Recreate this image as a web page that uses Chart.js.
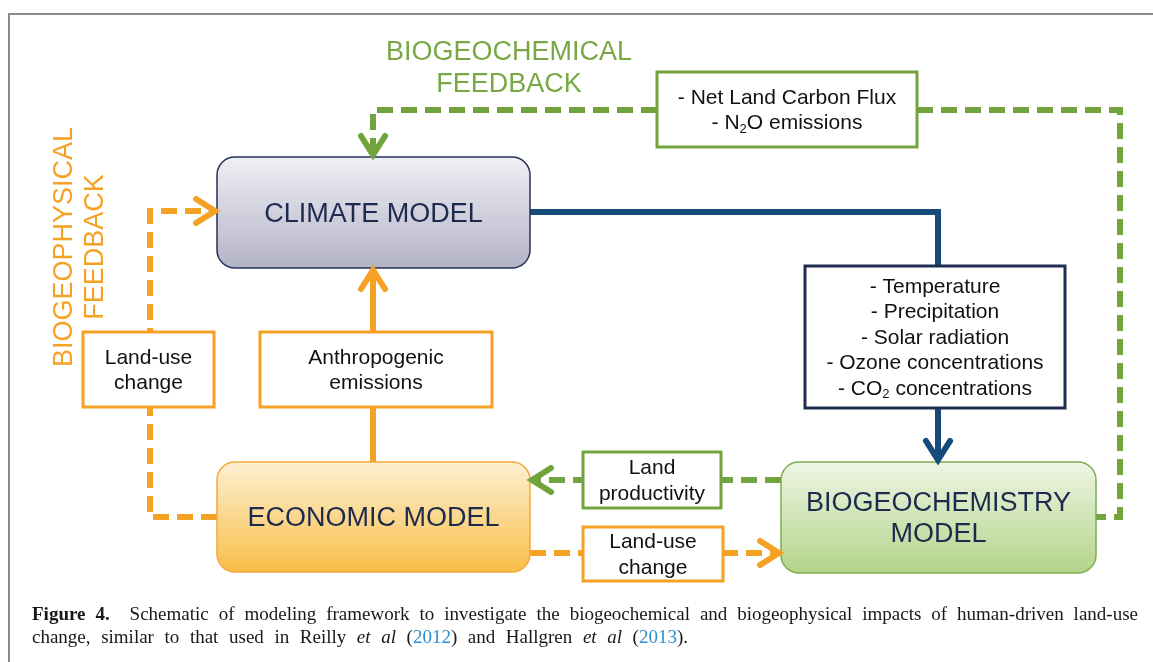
<!DOCTYPE html>
<html>
<head>
<meta charset="utf-8">
<script src="https://cdn.jsdelivr.net/npm/chart.js@4.4.0/dist/chart.umd.min.js"></script>
<style>
html, body { margin: 0; padding: 0; background: #fff; }
#wrap { position: relative; width: 1153px; height: 662px; overflow: hidden; }
#frame { position: absolute; left: 8px; top: 13px; width: 1300px; height: 800px;
         border-left: 2px solid #8a8a8a; border-top: 2px solid #8a8a8a; }
#chart { position: absolute; left: 0; top: 0; }
#caption { position: absolute; left: 32px; top: 602px; width: 1106px;
           font-family: "Liberation Serif", "DejaVu Serif", serif; font-size: 19px;
           line-height: 23px; color: #1a1718; white-space: nowrap; }
#caption div { text-align: justify; text-align-last: justify; white-space: normal; }
#caption .l2 { width: 656px; }
#caption a { color: #2a8fd0; text-decoration: none; }
</style>
</head>
<body>
<div id="wrap">
  <div id="frame"></div>
  <canvas id="chart" width="1153" height="662"></canvas>
  <div id="caption">
    <div class="l1"><b>Figure 4.</b>&nbsp; Schematic of modeling framework to investigate the biogeochemical and biogeophysical impacts of human-driven land-use</div>
    <div class="l2">change, similar to that used in Reilly <i>et al</i> (<a>2012</a>) and Hallgren <i>et al</i> (<a>2013</a>).</div>
  </div>
</div>
<script>
// Textos del esquema
const modelNames = [['CLIMATE MODEL'], ['ECONOMIC MODEL'], ['BIOGEOCHEMISTRY', 'MODEL']];
const climateVars = ['- Temperature', '- Precipitation', '- Solar radiation', '- Ozone concentrations', '- CO{2} concentrations'];
const carbonVars = ['- Net Land Carbon Flux', '- N{2}O emissions'];
const emissionVars = ['Anthropogenic', 'emissions'];
const landUseVars = ['Land-use', 'change'];
const productivityVars = ['Land', 'productivity'];
const chemFeedback = ['BIOGEOCHEMICAL', 'FEEDBACK'];
const physFeedback = ['BIOGEOPHYSICAL', 'FEEDBACK'];

const GREEN = '#72a33c';
const ORANGE = '#f5a224';
const NAVY = '#154a7a';
const INK = '#1c2a4e';

// Layout (en unidades de la escala)
const boxes = [
    { lines: modelNames[0], x0: 217, y0: 157, x1: 530, y1: 268, model: true, fill: ['#efeff4', '#b3b3c7'], stroke: '#25325a' },
    { lines: modelNames[1], x0: 217, y0: 462, x1: 530, y1: 572, model: true, fill: ['#fdf0d2', '#f8bf48'], stroke: '#f4a93a' },
    { lines: modelNames[2], x0: 781, y0: 462, x1: 1096, y1: 573, model: true, fill: ['#eef5e4', '#b3d489'], stroke: '#7fae4e' },
    { lines: carbonVars, x0: 657, y0: 72, x1: 917, y1: 147, stroke: GREEN },
    { lines: climateVars, x0: 805, y0: 266, x1: 1065, y1: 408, stroke: '#1f2d50' },
    { lines: emissionVars, x0: 260, y0: 332, x1: 492, y1: 407, stroke: ORANGE },
    { lines: landUseVars, x0: 83, y0: 332, x1: 214, y1: 407, stroke: ORANGE },
    { lines: productivityVars, x0: 583, y0: 452, x1: 721, y1: 508, stroke: GREEN },
    { lines: landUseVars, x0: 583, y0: 527, x1: 723, y1: 581, stroke: ORANGE }
];

const paths = [
    { pts: [[657, 110], [373, 110], [373, 155]], color: GREEN, dash: true, head: 'down' },
    { pts: [[917, 110], [1120, 110], [1120, 517], [1096, 517]], color: GREEN, dash: true },
    { pts: [[530, 212], [938, 212], [938, 266]], color: NAVY },
    { pts: [[938, 408], [938, 460]], color: NAVY, head: 'down' },
    { pts: [[373, 462], [373, 270]], color: ORANGE, head: 'up' },
    { pts: [[217, 517], [150, 517], [150, 211], [215, 211]], color: ORANGE, dash: true, head: 'right' },
    { pts: [[781, 480], [532, 480]], color: GREEN, dash: true, head: 'left' },
    { pts: [[530, 553], [779, 553]], color: ORANGE, dash: true, head: 'right' }
];

function richText(ctx, str, cx, cy, size) {
    const parts = str.split(/\{(\w+)\}/);
    const subSize = Math.round(size * 0.62);
    let w = 0;
    parts.forEach((p, i) => {
        ctx.font = (i % 2 ? subSize : size) + 'px "Liberation Sans", Arial, sans-serif';
        w += ctx.measureText(p).width;
    });
    let x = cx - w / 2;
    ctx.textAlign = 'left';
    parts.forEach((p, i) => {
        const sub = i % 2 === 1;
        ctx.font = (sub ? subSize : size) + 'px "Liberation Sans", Arial, sans-serif';
        ctx.fillText(p, x, cy + (sub ? size * 0.28 : 0));
        x += ctx.measureText(p).width;
    });
}

function roundRect(ctx, x, y, w, h, r) {
    ctx.beginPath();
    ctx.moveTo(x + r, y);
    ctx.arcTo(x + w, y, x + w, y + h, r);
    ctx.arcTo(x + w, y + h, x, y + h, r);
    ctx.arcTo(x, y + h, x, y, r);
    ctx.arcTo(x, y, x + w, y, r);
    ctx.closePath();
}

const diagram = {
    id: 'diagram',
    afterDatasetsDraw(chart) {
        const ctx = chart.ctx;
        const sx = chart.scales.x, sy = chart.scales.y;
        const px = v => sx.getPixelForValue(v);
        const py = v => sy.getPixelForValue(v);
        ctx.save();

        // Cajas
        boxes.forEach(b => {
            const x0 = px(b.x0), y0 = py(b.y0), x1 = px(b.x1), y1 = py(b.y1);
            const cx = (x0 + x1) / 2, cy = (y0 + y1) / 2;
            if (b.model) {
                const g = ctx.createLinearGradient(0, y0, 0, y1);
                g.addColorStop(0, b.fill[0]);
                g.addColorStop(1, b.fill[1]);
                roundRect(ctx, x0, y0, x1 - x0, y1 - y0, 18);
                ctx.fillStyle = g;
                ctx.fill();
                ctx.lineWidth = 1.5;
                ctx.strokeStyle = b.stroke;
                ctx.stroke();
                ctx.fillStyle = INK;
                ctx.textBaseline = 'middle';
                const lh = 31;
                b.lines.forEach((t, i) => {
                    richText(ctx, t, cx, cy + (i - (b.lines.length - 1) / 2) * lh + 2, 27);
                });
            } else {
                ctx.fillStyle = '#fff';
                ctx.fillRect(x0, y0, x1 - x0, y1 - y0);
                ctx.lineWidth = 3;
                ctx.strokeStyle = b.stroke;
                ctx.strokeRect(x0, y0, x1 - x0, y1 - y0);
                ctx.fillStyle = '#111';
                ctx.textBaseline = 'middle';
                const lh = 25.5;
                b.lines.forEach((t, i) => {
                    richText(ctx, t, cx, cy + (i - (b.lines.length - 1) / 2) * lh + 1, 21);
                });
            }
        });

        // Puntas de flecha
        ctx.lineWidth = 6;
        ctx.lineCap = 'round';
        ctx.lineJoin = 'miter';
        paths.forEach(p => {
            if (!p.head) return;
            const [x, y] = p.pts[p.pts.length - 1];
            const tx = px(x), ty = py(y);
            const a = 12, l = 19;
            const dirs = {
                down: [[-a, -l], [a, -l]],
                up: [[-a, l], [a, l]],
                right: [[-l, -a], [-l, a]],
                left: [[l, -a], [l, a]]
            }[p.head];
            ctx.strokeStyle = p.color;
            ctx.beginPath();
            ctx.moveTo(tx + dirs[0][0], ty + dirs[0][1]);
            ctx.lineTo(tx, ty);
            ctx.lineTo(tx + dirs[1][0], ty + dirs[1][1]);
            ctx.stroke();
        });

        // Etiquetas de retroalimentación
        ctx.font = '27px "Liberation Sans", Arial, sans-serif';
        ctx.textAlign = 'center';
        ctx.textBaseline = 'alphabetic';
        ctx.fillStyle = '#77a843';
        ctx.fillText(chemFeedback[0], px(509), py(60));
        ctx.fillText(chemFeedback[1], px(509), py(92));
        ctx.fillStyle = ORANGE;
        [[physFeedback[0], 72], [physFeedback[1], 103]].forEach(([t, x]) => {
            ctx.save();
            ctx.translate(px(x), py(247));
            ctx.rotate(-Math.PI / 2);
            ctx.fillText(t, 0, 0);
            ctx.restore();
        });
        ctx.restore();
    }
};

new Chart(document.getElementById('chart'), {
    type: 'scatter',
    data: {
        datasets: paths.map(p => ({
            data: p.pts.map(([x, y]) => ({ x, y })),
            showLine: true,
            borderColor: p.color,
            borderWidth: 6,
            borderDash: p.dash ? [16, 8] : [],
            borderCapStyle: 'butt',
            borderJoinStyle: 'miter',
            pointRadius: 0,
            fill: false,
            tension: 0
        }))
    },
    options: {
        responsive: false,
        animation: false,
        events: [],
        layout: { padding: 0 },
        scales: {
            x: { type: 'linear', min: 0, max: 1153, display: false },
            y: { type: 'linear', min: 0, max: 662, reverse: true, display: false }
        },
        plugins: {
            legend: { display: false },
            tooltip: { enabled: false }
        }
    },
    plugins: [diagram]
});
</script>
</body>
</html>
